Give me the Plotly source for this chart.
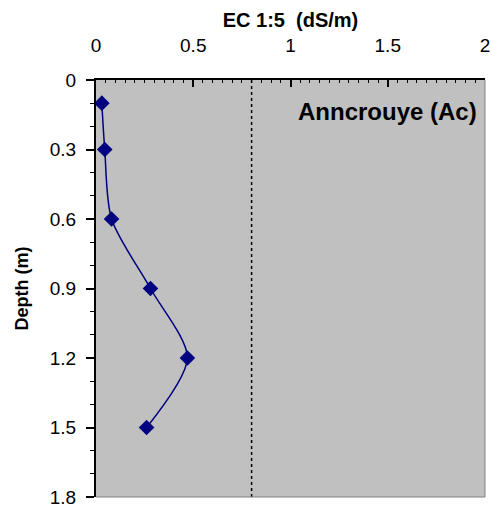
import plotly.graph_objects as go

depth = [0.1, 0.3, 0.6, 0.9, 1.2, 1.5]
ec = [0.03, 0.045, 0.08, 0.28, 0.47, 0.26]
threshold = 0.8
site_label = "Anncrouye (Ac)"
depth_ticks = [0, 0.3, 0.6, 0.9, 1.2, 1.5, 1.8]
depth_tick_text = ["0", "0.3", "0.6", "0.9", "1.2", "1.5", "1.8"]

fig = go.Figure()
fig.add_trace(go.Scatter(
    x=ec, y=depth, mode="lines+markers",
    line=dict(color="#000080", width=1.5, shape="spline", smoothing=0.8),
    marker=dict(symbol="diamond", size=12, color="#000080"),
    showlegend=False,
))
fig.add_trace(go.Scatter(
    x=[threshold, threshold], y=[0, 1.8], mode="lines",
    line=dict(color="black", width=1.5, dash="dot"),
    showlegend=False,
))

font_family = "Liberation Sans, Arial, sans-serif"
fig.update_layout(
    width=492, height=507,
    margin=dict(l=96, r=7, t=80, b=10),
    paper_bgcolor="white",
    plot_bgcolor="#C0C0C0",
    font=dict(family=font_family, size=19, color="black"),
    xaxis=dict(
        side="top", range=[0, 2], dtick=0.5, tick0=0,
        automargin=False,
        ticks="inside", ticklen=7, tickwidth=1.5, tickcolor="black",
        minor=dict(ticks="inside", ticklen=3, dtick=0.05, tickcolor="black", tickwidth=1),
        showgrid=False, zeroline=False,
        showline=True, linecolor="black", linewidth=2,
        mirror=False,
        title=dict(text="<b>EC 1:5  (dS/m)</b>", font=dict(size=20), standoff=2),
        ticklabelstandoff=18,
    ),
    yaxis=dict(
        range=[1.8, 0],
        automargin=False,
        tickmode="array", tickvals=depth_ticks, ticktext=depth_tick_text,
        ticklabeloverflow="allow",
        ticks="outside", ticklen=8, tickwidth=1.5, tickcolor="black",
        minor=dict(ticks="outside", ticklen=4, dtick=0.1, tick0=0, tickcolor="black", tickwidth=1),
        showgrid=False, zeroline=False,
        showline=True, linecolor="black", linewidth=2,
        title=dict(text="<b>Depth (m)</b>", font=dict(size=18), standoff=16),
        ticklabelstandoff=6,
    ),
    shapes=[
        dict(type="line", xref="paper", yref="paper", x0=1, x1=1, y0=0, y1=1,
             line=dict(color="#808080", width=1)),
        dict(type="line", xref="paper", yref="paper", x0=0, x1=1, y0=0, y1=0,
             line=dict(color="#808080", width=1)),
    ],
    annotations=[
        dict(text="<b>" + site_label + "</b>", xref="paper", yref="paper",
             x=0.985, y=0.925, xanchor="right", yanchor="middle", showarrow=False,
             font=dict(size=24, family=font_family)),
    ],
)
fig.write_html("out.html")
